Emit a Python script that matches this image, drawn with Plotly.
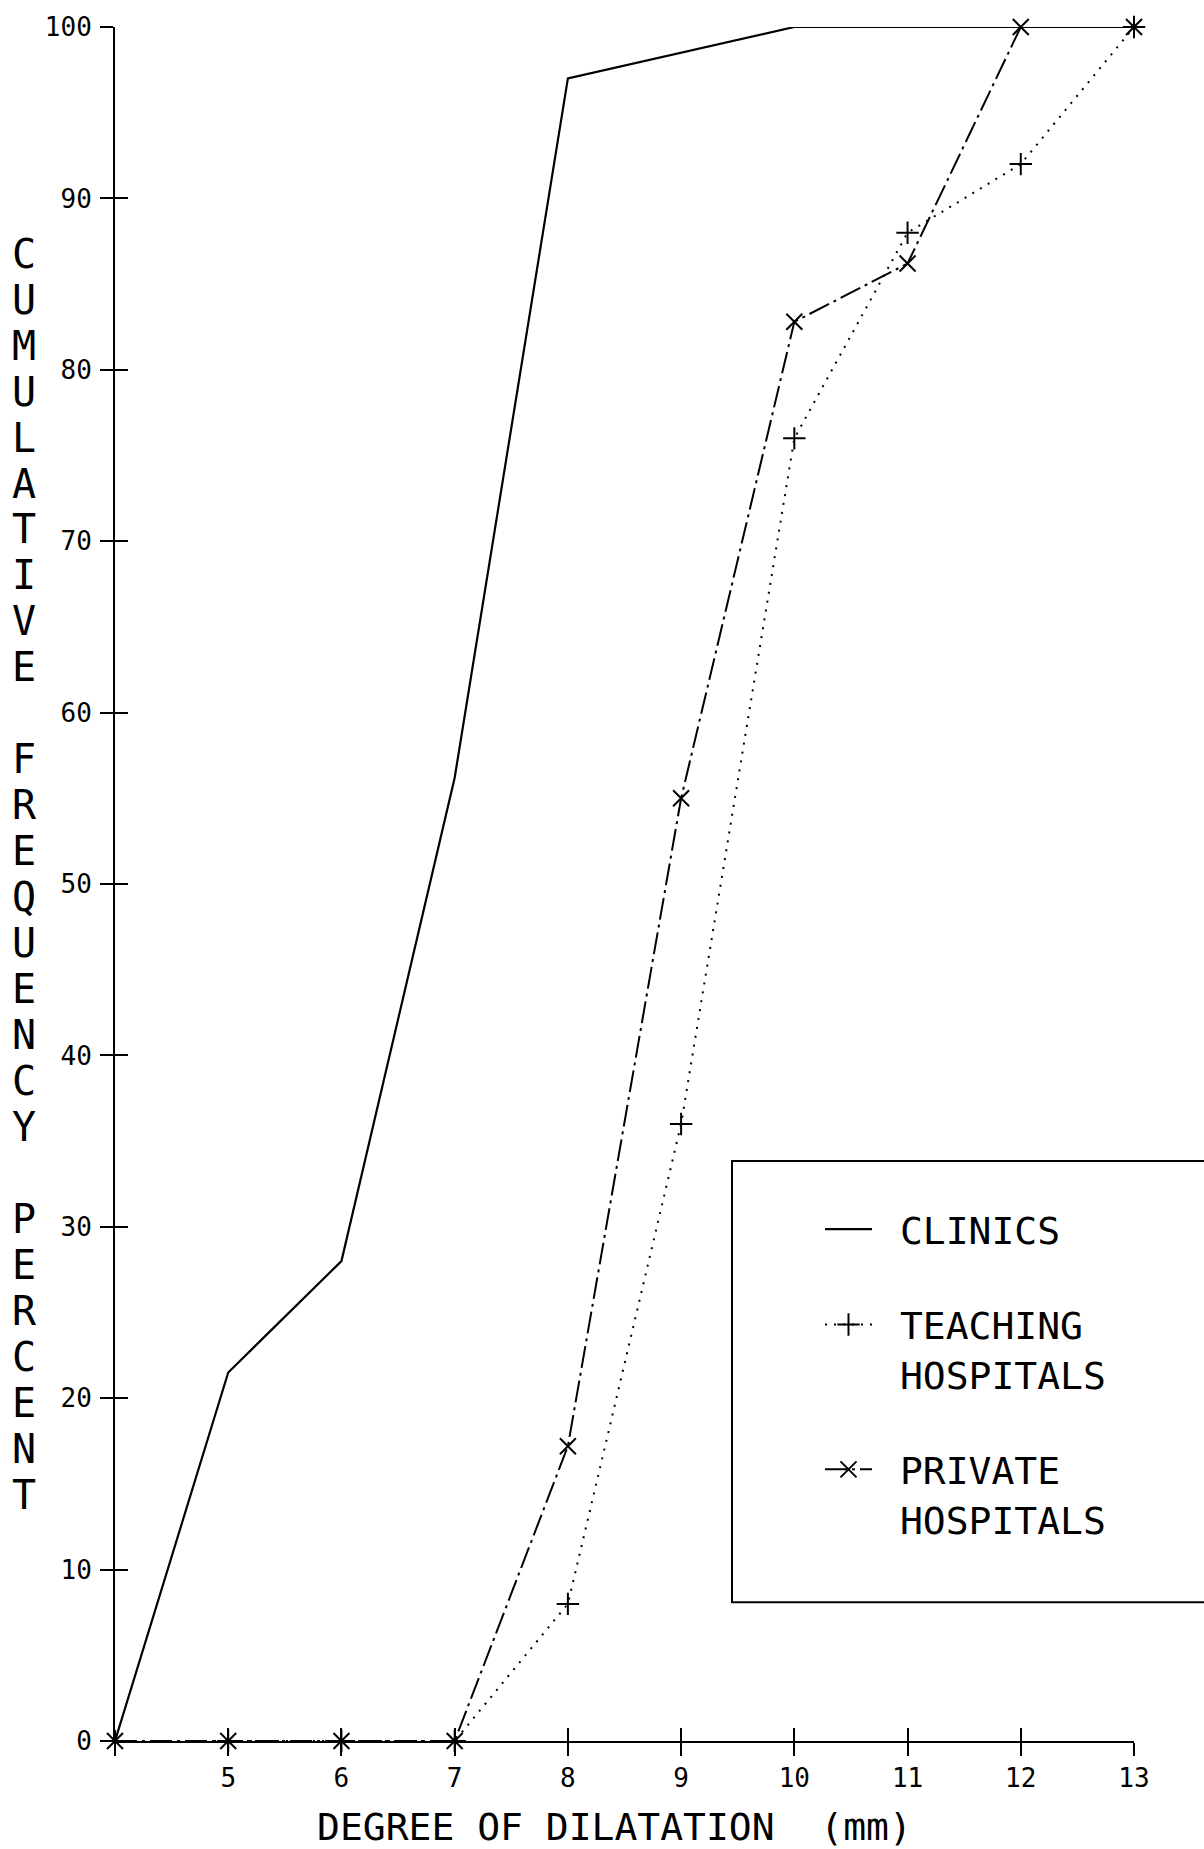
import plotly.graph_objects as go

# ---------------- data ----------------
dilatation = [4, 5, 6, 7, 8, 9, 10, 11, 12, 13]
clinics = [0, 21.5, 28.0, 56.2, 97.0, 98.5, 100, 100, 100, 100]
teaching = [0, 0, 0, 0, 8.0, 36.0, 76.0, 88.0, 92.0, 100]
private = [0, 0, 0, 0, 17.2, 55.0, 82.8, 86.2, 100, 100]

x_ticks = [4, 5, 6, 7, 8, 9, 10, 11, 12, 13]
x_ticktext = ["", "5", "6", "7", "8", "9", "10", "11", "12", "13"]
y_ticks = [0, 10, 20, 30, 40, 50, 60, 70, 80, 90, 100]

NB = "\u00a0"
names = [NB + "CLINICS",
         NB + "TEACHING<br>" + NB + "HOSPITALS",
         NB + "PRIVATE<br>" + NB + "HOSPITALS"]
y_title = "CUMULATIVE FREQUENCY PERCENT"
x_title = "DEGREE OF DILATATION  (mm)"

# ---------------- layout geometry ----------------
W, H = 1204, 1849
ML, MR, MT, MB = 115, 70, 24, 108
PW = W - ML - MR
PH = H - MT - MB

def px_x(px):
    return (px - ML) / PW

def px_y(py):
    return (H - MB - py) / PH

FONT = "DejaVu Sans Mono"

fig = go.Figure()

fig.add_trace(go.Scatter(
    x=dilatation, y=clinics, name=names[0], mode="lines",
    line=dict(color="black", width=2.2), cliponaxis=False,
    legendgroup="a"))
fig.add_trace(go.Scatter(
    x=dilatation, y=teaching, name=names[1], mode="lines+markers",
    line=dict(color="black", width=2, dash="2px,7px"),
    marker=dict(symbol="cross-thin", size=16, color="black",
                line=dict(color="black", width=2)),
    cliponaxis=False, legendgroup="b"))
fig.add_trace(go.Scatter(
    x=dilatation, y=private, name=names[2], mode="lines+markers",
    line=dict(color="black", width=2, dash="22px,5px,3px,5px"),
    marker=dict(symbol="x-thin", size=16, color="black",
                line=dict(color="black", width=2)),
    cliponaxis=False, legendgroup="c"))
# invisible trace so the overlay axes (inner tick halves) are drawn
fig.add_trace(go.Scatter(
    x=dilatation[:1], y=clinics[:1], xaxis="x2", yaxis="y2",
    mode="markers", marker=dict(opacity=0), showlegend=False,
    hoverinfo="skip"))

axis_common = dict(showgrid=False, zeroline=False, linecolor="black",
                   tickcolor="black", tickwidth=2)

fig.update_layout(
    width=W, height=H,
    margin=dict(l=ML, r=MR, t=MT, b=MB, pad=0),
    paper_bgcolor="white", plot_bgcolor="white",
    font=dict(family=FONT, color="black", size=26),
    xaxis=dict(range=[4, 13], tickvals=x_ticks, ticktext=x_ticktext,
               ticks="outside", ticklen=13, showline=True, linewidth=2,
               ticklabelstandoff=0,
               tickfont=dict(family=FONT, size=26), **axis_common),
    yaxis=dict(range=[0, 100], tickvals=y_ticks, ticks="outside",
               ticklen=13, showline=True, linewidth=2,
               ticklabelstandoff=3,
               tickfont=dict(family=FONT, size=26), **axis_common),
    xaxis2=dict(range=[4, 13], tickvals=x_ticks, ticks="inside",
                ticklen=13, showticklabels=False, showline=False,
                overlaying="x", anchor="y2", side="bottom", **axis_common),
    yaxis2=dict(range=[0, 100], tickvals=y_ticks, ticks="inside",
                ticklen=13, showticklabels=False, showline=False,
                overlaying="y", anchor="x2", side="left", **axis_common),
    showlegend=True,
    legend=dict(x=px_x(820), y=px_y(1197), xanchor="left", yanchor="top",
                bgcolor="rgba(0,0,0,0)", borderwidth=0,
                font=dict(family=FONT, size=38, color="black"),
                itemwidth=47, tracegroupgap=43, valign="top",
                traceorder="grouped"),
)

# legend frame (extends past right edge of the page)
fig.add_shape(type="rect", xref="paper", yref="paper",
              x0=px_x(732), x1=px_x(1215), y0=px_y(1602), y1=px_y(1160),
              line=dict(color="black", width=2), fillcolor="rgba(0,0,0,0)",
              layer="above")

# x-axis title
fig.add_annotation(text=x_title, xref="paper", yref="paper",
                   x=px_x(614), y=px_y(1827), xanchor="center",
                   yanchor="middle", showarrow=False,
                   font=dict(family=FONT, size=38, color="black"))

# stacked y-axis title letters
slot = 46.06
for i, ch in enumerate(y_title):
    if ch == " ":
        continue
    fig.add_annotation(text=ch, xref="paper", yref="paper",
                       x=px_x(24), y=px_y(251 + i * slot),
                       xanchor="center", yanchor="middle", showarrow=False,
                       font=dict(family=FONT, size=40, color="black"))

fig.write_html("out.html")
